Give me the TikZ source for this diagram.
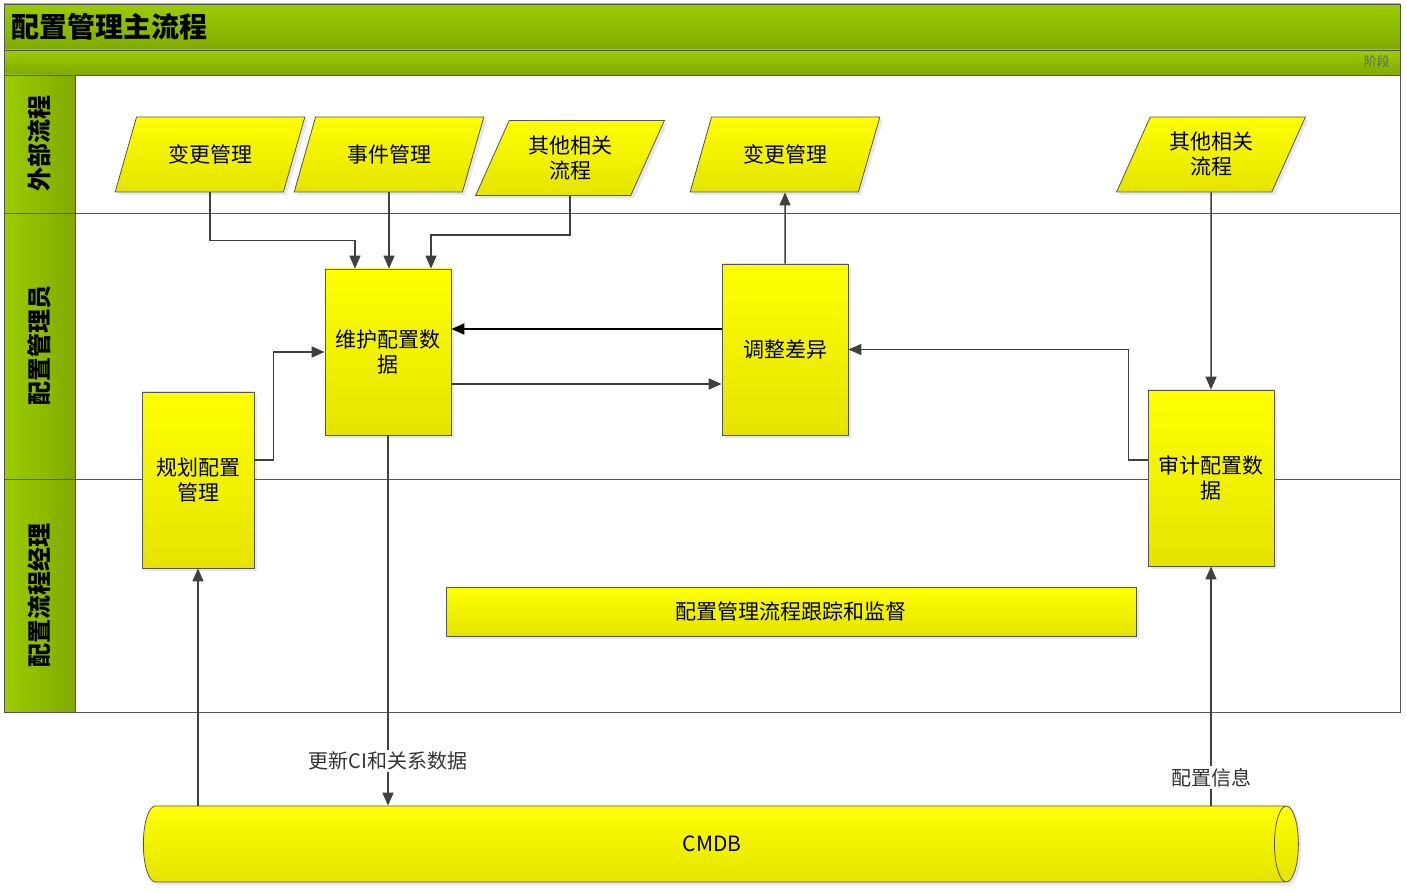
\documentclass[tikz,border=0pt]{standalone}
\usepackage{fontspec}
\setmainfont{Noto Sans CJK SC}
\usetikzlibrary{positioning,shapes.geometric,arrows.meta,shadows}
\definecolor{lanegreen}{RGB}{155,205,0}
\definecolor{lanedark}{RGB}{128,170,0}
\definecolor{boxtop}{RGB}{255,255,0}
\definecolor{boxbottom}{RGB}{228,228,0}
\definecolor{edgegray}{RGB}{85,85,85}
\definecolor{linegray}{RGB}{64,64,64}
\tikzset{
  procbox/.style={draw=edgegray, top color=boxtop, bottom color=boxbottom,
    align=center, inner sep=2pt, font=\fontsize{10.5}{12.5}\selectfont,
    drop shadow={shadow xshift=1.5pt, shadow yshift=-1.5pt, opacity=0.18}},
  extproc/.style={procbox, trapezium, trapezium left angle=64,
    trapezium right angle=116, trapezium stretches=true,
    minimum width=95pt, minimum height=37.5pt},
  flow/.style={draw=linegray, line width=0.75pt, -{Triangle[length=6.5pt,width=5.5pt]}},
  lanehead/.style={draw=edgegray, left color=lanegreen, right color=lanedark},
  lanetitle/.style={font=\bfseries\fontsize{12}{14}\selectfont, rotate=90},
  flowlabel/.style={fill=white, inner sep=1pt, text=black!80, font=\fontsize{10}{12}\selectfont}
}
\begin{document}
\begin{tikzpicture}[x=0.5pt,y=-0.5pt]
    \useasboundingbox[fill=white] (0,0) rectangle (1406,892);

    % Pool and lanes
    \shade[top color=lanegreen, bottom color=lanedark] (4,4) rectangle (1400,50);
    \shade[top color=lanegreen, bottom color=lanedark] (4,50) rectangle (1400,75);
    \draw[edgegray] (4,50) -- (1400,50);
    \draw[edgegray] (4,75) -- (1400,75);
    \node[anchor=west, font=\bfseries\fontsize{14}{16}\selectfont] (title) at (4,27) {配置管理主流程};
    \node[anchor=east, text=black!60, font=\fontsize{6.5}{8}\selectfont] (phase) at (1397,62) {阶段};
    \foreach \top/\bot/\name in {75/213/外部流程, 213/479/配置管理员, 479/712/配置流程经理} {
        \draw[lanehead] (4,\top) rectangle (75,\bot);
        \node[lanetitle] at (39,{(\top+\bot)/2}) {\name};
    }
    \foreach \y in {213,479} {
        \draw[edgegray] (75,\y) -- (1400,\y);
    }
    \draw[edgegray] (4,4) rectangle (1400,712);

    % External processes
    \node[extproc] (chg1) at (210,154.5) {变更管理};
    \node[extproc] (inc) at (389,154.5) {事件管理};
    \node[extproc] (oth1) at (570,158) {其他相关\\流程};
    \node[extproc] (chg2) at (785,154.5) {变更管理};
    \node[extproc] (oth2) at (1211,154.5) {其他相关\\流程};

    % Activities
    \node[procbox, minimum width=63pt, minimum height=83pt] (maint) at (388,352) {维护配置数\\据};
    \node[procbox, minimum width=63pt, minimum height=85.5pt] (adjust) at (785,349.5) {调整差异};
    \node[procbox, minimum width=56pt, minimum height=88pt] (plan) at (198,480) {规划配置\\管理};
    \node[procbox, minimum width=63pt, minimum height=88pt] (audit) at (1211,478) {审计配置数\\据};
    \node[procbox, minimum width=345pt, minimum height=24.5pt] (track) at (791,611.5) {配置管理流程跟踪和监督};
    \node[procbox, cylinder, shape border rotate=0, aspect=1,
          minimum height=577.5pt, minimum width=38pt] (cmdb) at (712,844) {CMDB};

    % Flows
    \draw[flow] (chg1.south) -- ++(0,48) -| ([xshift=-16.5pt]maint.north);
    \draw[flow] (inc.south) -- (inc.south |- maint.north);
    \draw[flow] (oth1.south) -- ++(0,39) -| ([xshift=21.5pt]maint.north);
    \draw[flow] (adjust.north) -- (chg2.south);
    \draw[flow] (oth2.south) -- (audit.north);
    \draw[flow, draw=black, line width=1pt] ([yshift=10.25pt]adjust.west) -- ([yshift=10.25pt]adjust.west -| maint.east);
    \draw[flow] ([yshift=-16pt]maint.east) -- ([yshift=-16pt]maint.east -| adjust.west);
    \draw[flow] ([yshift=9pt]audit.west) -- ++(-19,0) |- (adjust.east);
    \draw[flow] ([yshift=10pt]plan.east) -- ++(19,0) |- (maint.west);
    \draw[flow] (maint.south) -- node[flowlabel, pos=0.88] {更新CI和关系数据} (maint.south |- cmdb.north);
    \draw[flow] (plan.south |- cmdb.north) -- (plan.south);
    \draw[flow] (audit.south |- cmdb.north) -- node[flowlabel, pos=0.117] {配置信息} (audit.south);
\end{tikzpicture}
\end{document}
